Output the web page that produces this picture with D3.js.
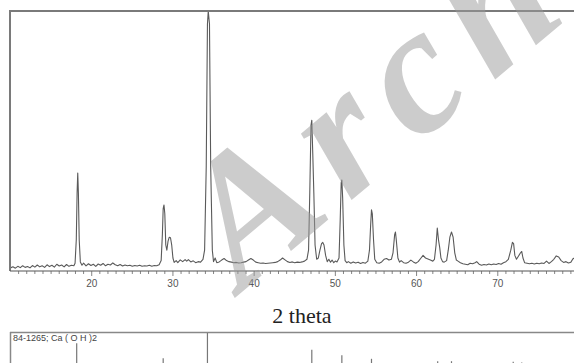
<!DOCTYPE html>
<html>
<head>
<meta charset="utf-8">
<script src="https://cdn.jsdelivr.net/npm/d3@7"></script>
<style>
  body { margin: 0; background: #fff; }
  svg { display: block; }
</style>
</head>
<body>
<div id="chart"></div>
<script>
// XRD pattern, [2theta, intensity]
const pattern = [
  [10,1.2],[10.3,1.6],[10.6,1.1],[10.9,1.8],[11.2,1.3],[11.5,2.0],[11.8,1.4],[12.1,1.7],[12.4,1.2],[12.7,2.1],
  [13.0,1.5],[13.3,2.3],[13.6,1.6],[13.9,2.0],[14.2,1.4],[14.5,2.4],[14.8,1.7],[15.1,2.2],[15.4,1.5],[15.7,2.6],
  [16.0,1.9],[16.3,2.3],[16.6,1.6],[16.9,2.5],[17.2,1.8],[17.5,2.2],[17.8,2.0],
  [17.95,3],[18.1,12],[18.2,30],[18.28,37.7],[18.36,30],[18.46,12],[18.6,3.5],
  [18.8,2.2],[19.0,3.0],[19.3,2.0],[19.6,2.8],[19.9,2.1],[20.2,2.6],[20.5,1.8],[20.8,2.7],[21.1,2.2],[21.4,2.9],
  [21.7,2.0],[22.0,2.6],[22.3,2.3],[22.6,3.1],[22.9,2.4],[23.2,2.0],[23.5,2.5],[23.8,1.9],[24.1,2.3],[24.4,2.0],
  [24.7,2.2],[25.0,1.8],[25.3,2.1],[25.6,1.9],[25.9,2.2],[26.2,1.8],[26.5,2.0],[26.8,1.9],[27.1,2.2],[27.4,1.8],
  [27.7,2.1],[28.0,2.0],[28.3,2.4],
  [28.55,4],[28.7,14],[28.8,24],[28.9,25.4],[29.0,22],[29.12,10],[29.25,8],[29.4,11.5],[29.55,13],[29.7,12.8],
  [29.85,10],[30.0,5],[30.15,3.3],
  [30.4,4.0],[30.6,3.2],[30.9,4.3],[31.2,3.6],[31.5,4.4],[31.7,3.8],[31.9,4.4],[32.2,3.5],[32.5,3.9],[32.8,3.2],
  [33.1,3.6],[33.4,3.4],[33.7,4.5],
  [33.9,8],[34.1,40],[34.25,95],[34.35,102],[34.5,95],[34.65,40],[34.85,8],
  [35.0,3.6],[35.2,5.0],[35.4,3.2],[35.7,3.5],[36.0,4.2],[36.3,4.8],[36.6,4.0],[36.9,3.6],[37.2,3.4],[37.5,3.2],
  [37.8,3.3],[38.1,3.1],[38.4,3.2],[38.7,3.4],[39.0,3.6],[39.3,4.2],[39.6,4.8],[39.9,4.2],[40.2,3.4],[40.5,3.2],
  [40.8,3.0],[41.1,3.1],[41.4,2.9],[41.7,3.0],[42.0,3.1],[42.3,3.2],[42.6,3.3],[42.9,3.6],[43.2,4.2],[43.5,5.0],
  [43.8,4.3],[44.1,3.6],[44.4,3.3],[44.7,3.5],[45.0,3.2],[45.3,3.4],[45.6,3.3],[45.9,3.5],[46.2,3.8],[46.5,4.5],
  [46.7,8],[46.85,30],[47.0,56],[47.1,58],[47.22,45],[47.35,30],[47.5,10],[47.7,4.5],
  [47.9,5],[48.1,8],[48.3,10.5],[48.45,11],[48.6,10],[48.8,6],[49.0,3.6],[49.2,4.5],[49.4,3.4],[49.6,4.2],
  [49.8,3.2],[50.0,3.8],[50.2,3.5],
  [50.45,5],[50.6,20],[50.72,34],[50.8,35],[50.9,28],[51.05,10],[51.2,4],
  [51.4,3.2],[51.6,3.6],[51.9,3.0],[52.2,3.5],[52.5,3.1],[52.8,3.4],[53.1,2.9],[53.4,3.3],[53.7,3.0],[54.0,3.8],
  [54.2,8],[54.35,18],[54.45,23.5],[54.55,22],[54.7,12],[54.85,4.5],
  [55.1,3.2],[55.4,3.0],[55.7,3.5],[56.0,4.5],[56.3,4.8],[56.6,4.2],[56.9,4.5],
  [57.1,7],[57.3,14],[57.4,15],[57.5,12],[57.7,5],
  [57.9,3.4],[58.1,4.0],[58.4,3.2],[58.7,3.0],[59.0,3.4],[59.3,4.2],[59.6,3.5],[59.9,3.0],[60.2,3.6],[60.5,4.8],
  [60.8,6.0],[61.1,5.0],[61.4,4.6],[61.7,4.2],[62.0,3.8],[62.2,4.5],
  [62.4,10],[62.55,16.5],[62.7,12],[62.85,9],[63.0,5],[63.2,3.6],[63.4,3.4],[63.7,4.0],
  [63.9,8],[64.1,13],[64.3,15],[64.5,13],[64.7,7],[64.9,4.2],
  [65.1,3.8],[65.4,3.2],[65.7,2.8],[66.0,2.6],[66.3,2.4],[66.6,3.0],[66.9,2.8],[67.2,3.2],[67.4,3.6],[67.7,2.6],
  [68.0,2.2],[68.3,2.5],[68.6,2.3],[68.9,2.7],[69.2,2.4],[69.5,2.7],[69.8,2.5],[70.1,2.9],[70.4,2.6],[70.7,3.2],
  [71.0,3.6],[71.3,4.5],
  [71.6,8],[71.8,11],[71.95,10.5],[72.1,6],[72.3,4.5],[72.5,5.5],
  [72.8,7],[72.95,7.5],[73.1,5],[73.3,3.2],[73.6,3.0],[73.9,2.8],[74.2,3.0],[74.5,2.7],[74.8,3.0],[75.1,2.8],
  [75.4,3.1],[75.7,2.9],[76.0,3.8],[76.3,2.9],[76.6,3.6],[76.9,4.5],[77.2,5.8],[77.5,5.4],[77.8,4.0],[78.1,3.3],
  [78.4,3.6],[78.7,3.1],[79.0,3.4],[79.3,4.9],[79.6,4.5],[79.9,4.8]
];

// reference card 84-1265 Ca(OH)2: [2theta, relative intensity]
const refLines = [
  [18.15,83],[28.8,58],[34.25,100],[47.1,72],[50.8,63],[54.45,57],[62.6,53],[64.3,53],[71.9,52],[72.95,51]
];

const majorTicks = [20, 30, 40, 50, 60, 70];
const xLabel = "2 theta";
const refLabel = "84-1265; Ca ( O H )2";
const watermark = "Arch";

const W = 574, H = 363;
const svg = d3.select("#chart").append("svg")
  .attr("width", W)
  .attr("height", H);

const x = d3.scaleLinear().domain([10, 80]).range([10.5, 579]);
const y = d3.scaleLinear().domain([0, 100]).range([271, 11]);
const yRef = d3.scaleLinear().domain([0, 100]).range([393, 333]);

const line = d3.line()
  .x(d => x(d[0]))
  .y(d => y(Math.min(d[1], 100)));

// trace
svg.append("path")
  .datum(pattern)
  .attr("fill", "none")
  .attr("stroke", "#5a5a5a")
  .attr("stroke-width", 1.1)
  .attr("stroke-linejoin", "round")
  .attr("d", line);

// frame: top and left
svg.append("line")
  .attr("x1", 9).attr("x2", W)
  .attr("y1", y(100)).attr("y2", y(100))
  .attr("stroke", "#7a7a7a").attr("stroke-width", 2);
svg.append("line")
  .attr("x1", 10).attr("x2", 10)
  .attr("y1", y(100)).attr("y2", y(0))
  .attr("stroke", "#7a7a7a").attr("stroke-width", 2);

// x axis with minor ticks
const minor = d3.range(11, 80, 1);
const axisG = svg.append("g").attr("transform", `translate(0,${y(0)})`);
axisG.append("line")
  .attr("x1", 10).attr("x2", W)
  .attr("stroke", "#555").attr("stroke-width", 1.2);
axisG.selectAll(".minor")
  .data(minor)
  .join("line")
  .attr("x1", d => x(d)).attr("x2", d => x(d))
  .attr("y1", 0).attr("y2", d => d % 10 === 0 ? 5 : 3)
  .attr("stroke", "#666").attr("stroke-width", 0.8);
axisG.selectAll(".lbl")
  .data(majorTicks)
  .join("text")
  .attr("x", d => x(d))
  .attr("y", 16)
  .attr("text-anchor", "middle")
  .attr("font-family", "Liberation Sans, Arial, sans-serif")
  .attr("font-size", 10)
  .attr("fill", "#555")
  .text(d => d);

svg.append("text")
  .attr("x", 302)
  .attr("y", 323)
  .attr("text-anchor", "middle")
  .attr("font-family", "Liberation Serif, Times New Roman, serif")
  .attr("font-size", 22)
  .attr("fill", "#222")
  .text(xLabel);

// reference pattern panel
svg.append("line")
  .attr("x1", 10).attr("x2", W)
  .attr("y1", 332.5).attr("y2", 332.5)
  .attr("stroke", "#888").attr("stroke-width", 1.5);
svg.append("line")
  .attr("x1", 10.5).attr("x2", 10.5)
  .attr("y1", 332).attr("y2", H)
  .attr("stroke", "#888").attr("stroke-width", 1.5);
svg.selectAll(".ref")
  .data(refLines)
  .join("line")
  .attr("x1", d => x(d[0])).attr("x2", d => x(d[0]))
  .attr("y1", d => yRef(d[1])).attr("y2", H)
  .attr("stroke", "#777").attr("stroke-width", 1.2);
svg.append("text")
  .attr("x", 13)
  .attr("y", 341)
  .attr("font-family", "Liberation Sans, Arial, sans-serif")
  .attr("font-size", 9)
  .attr("fill", "#444")
  .text(refLabel);

// watermark
svg.append("text")
  .attr("transform", "translate(242,292) rotate(-40)")
  .attr("font-family", "Liberation Serif, Times New Roman, serif")
  .attr("font-weight", "bold")
  .attr("font-style", "italic")
  .attr("font-size", 182)
  .attr("letter-spacing", 18)
  .attr("fill", "#9a9a9a")
  .attr("fill-opacity", 0.5)
  .text(watermark);
</script>
</body>
</html>
